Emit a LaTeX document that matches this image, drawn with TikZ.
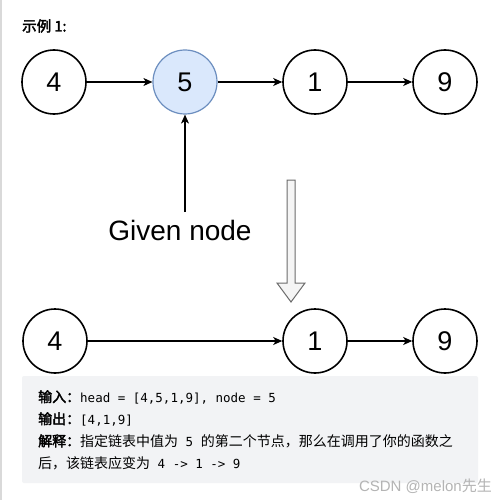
\documentclass[tikz,border=0pt]{standalone}
\usepackage{fontspec}
\setmainfont{Liberation Sans}
\setmonofont{DejaVu Sans Mono}
\newfontfamily\cjk[AutoFakeBold=2.5]{Noto Sans CJK SC}
\usetikzlibrary{arrows.meta}
\definecolor{selfill}{HTML}{DAE8FC}
\definecolor{seldraw}{HTML}{6C8EBF}
\definecolor{boxgray}{HTML}{F2F3F5}
\definecolor{markgray}{HTML}{B4B4B4}
\tikzset{
	listnode/.style={circle, draw=black, line width=1.6pt, minimum size=64pt, inner sep=0pt, font=\fontsize{27}{27}\selectfont},
	given/.style={listnode, draw=seldraw, fill=selfill, line width=1.2pt},
	nextarrow/.style={line width=1.3pt, -{Stealth[length=9pt,width=8pt,inset=2.5pt]}},
	txtline/.style={anchor=west, inner sep=0pt, font=\fontsize{14}{14}\selectfont}
}
\newcommand{\bt}[1]{{\cjk\bfseries #1}}
\newcommand{\rt}[1]{{\cjk #1}}
\newcommand{\mt}[1]{{\ttfamily\fontsize{12.5}{14}\selectfont #1}}

\begin{document}
\begin{tikzpicture}[x=1pt,y=-1pt]
	\useasboundingbox (0,0) rectangle (503,500);
	\fill[white] (0,0) rectangle (503,500);
	\fill[black!15] (0,0) rectangle (2,500);
	% heading
	\node[anchor=west, inner sep=0pt, font=\fontsize{14.5}{14.5}\selectfont] (title) at (22,26) {\bt{示例 1:}};
	% list before
	\node[listnode] (a4) at (54,82) {4};
	\node[given] (a5) at (185,82) {5};
	\node[listnode] (a1) at (315,82) {1};
	\node[listnode] (a9) at (445,82) {9};
	\foreach \u/\v in {a4/a5,a5/a1,a1/a9}{
		\draw[nextarrow] (\u) -- (\v);}
	% pointer to the given node
	\node[font=\fontsize{28}{28}\selectfont, inner sep=1pt] (lbl) at (180,230) {Given node};
	\coordinate (tail) at (185,212);
	\draw[nextarrow] (tail) -- (a5);
	% hollow arrow down
	\draw[gray!85!black, fill=black!4, line width=1pt, line join=miter]
		(287,180) -- (295,180) -- (295,283) -- (305,283) -- (291,302)
		-- (277,283) -- (287,283) -- cycle;
	% list after
	\node[listnode] (b4) at (55,341) {4};
	\node[listnode] (b1) at (315,341) {1};
	\node[listnode] (b9) at (445,341) {9};
	\foreach \u/\v in {b4/b1,b1/b9}{
		\draw[nextarrow] (\u) -- (\v);}
	% explanation box
	\fill[boxgray, rounded corners=2pt] (22,376) rectangle (478,483);
	\node[txtline] (l1) at (38,397) {\bt{输入：}\mt{head = [4,5,1,9], node = 5}};
	\node[txtline] (l2) at (38,419) {\bt{输出：}\mt{[4,1,9]}};
	\node[txtline] (l3) at (38,441) {\bt{解释：}\rt{指定链表中值为}\mt{ 5 }\rt{的第二个节点，那么在调用了你的函数之}};
	\node[txtline] (l4) at (38,463) {\rt{后，该链表应变为}\mt{ 4 -> 1 -> 9}};
	% watermark
	\node[anchor=east, inner sep=0pt, text=markgray, font=\fontsize{15}{15}\selectfont] (mark) at (492,486) {CSDN @melon\rt{先生}};
\end{tikzpicture}
\end{document}
